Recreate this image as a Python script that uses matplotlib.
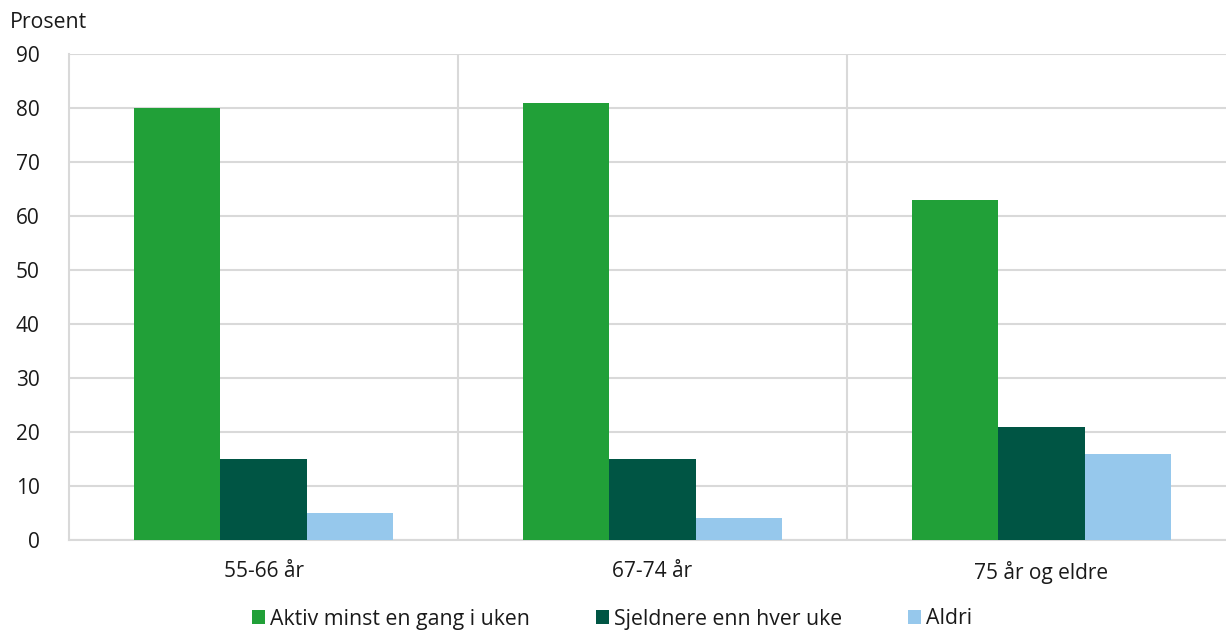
import matplotlib
matplotlib.use("Agg")
import matplotlib.pyplot as plt
import numpy as np
from matplotlib.patches import Patch

categories = ["55-66 år", "67-74 år", "75 år og eldre"]
series_names = ["Aktiv minst en gang i uken", "Sjeldnere enn hver uke", "Aldri"]
aktiv = [80, 81, 63]
sjeldnere = [15, 15, 21]
aldri = [5, 4, 16]
colors = ["#21a038", "#005544", "#96c8ec"]
yticks = [0, 10, 20, 30, 40, 50, 60, 70, 80, 90]

plt.rcParams['font.family'] = ['Open Sans', 'DejaVu Sans']
W, H = 1226, 633
fig = plt.figure(figsize=(W / 100, H / 100), dpi=100)
left_px, right_px = 69, 1236
bottom_px, top_px = 540, 54
ax = fig.add_axes([left_px / W, (H - bottom_px) / H, (right_px - left_px) / W, (bottom_px - top_px) / H])

x = np.arange(len(categories))
bw = 0.222
grid_c = "#d9d9d9"
for i, (vals, c) in enumerate(zip([aktiv, sjeldnere, aldri], colors)):
    ax.bar(x + (i - 1) * bw, vals, bw, color=c, zorder=3, linewidth=0)

ax.set_xlim(-0.5, 2.5)
ax.set_ylim(0, 90)
ax.set_yticks(yticks)
ax.set_yticklabels([str(v) for v in yticks])
ax.set_xticks(x)
ax.set_xticklabels(categories)
ax.tick_params(axis='both', length=0, labelsize=15, colors="#1a1a1a")
ax.tick_params(axis='y', pad=21)
ax.tick_params(axis='x', pad=15)
ax.yaxis.grid(True, color=grid_c, linewidth=1.5, zorder=0)
for b in [0.5, 1.5]:
    ax.axvline(b, color=grid_c, linewidth=1.5, zorder=0)
for s in ["top", "right"]:
    ax.spines[s].set_visible(False)
for s in ["left", "bottom"]:
    ax.spines[s].set_color(grid_c)
    ax.spines[s].set_linewidth(1.5)
    ax.spines[s].set_zorder(1)

fig.text(10 / W, 1 - 23 / H, "Prosent", fontsize=15.3, ha='left', va='center', color="#1a1a1a")

handles = [Patch(facecolor=c, edgecolor='none') for c in colors]
fig.legend(handles, series_names, loc='center', bbox_to_anchor=(612 / W, 1 - 619 / H),
           ncol=3, frameon=False, fontsize=15.3, handlelength=0.6, handleheight=0.6,
           handletextpad=0.25, columnspacing=3.1, borderaxespad=0, borderpad=0,
           labelcolor="#1a1a1a")

fig.savefig("out.png", dpi=100)
